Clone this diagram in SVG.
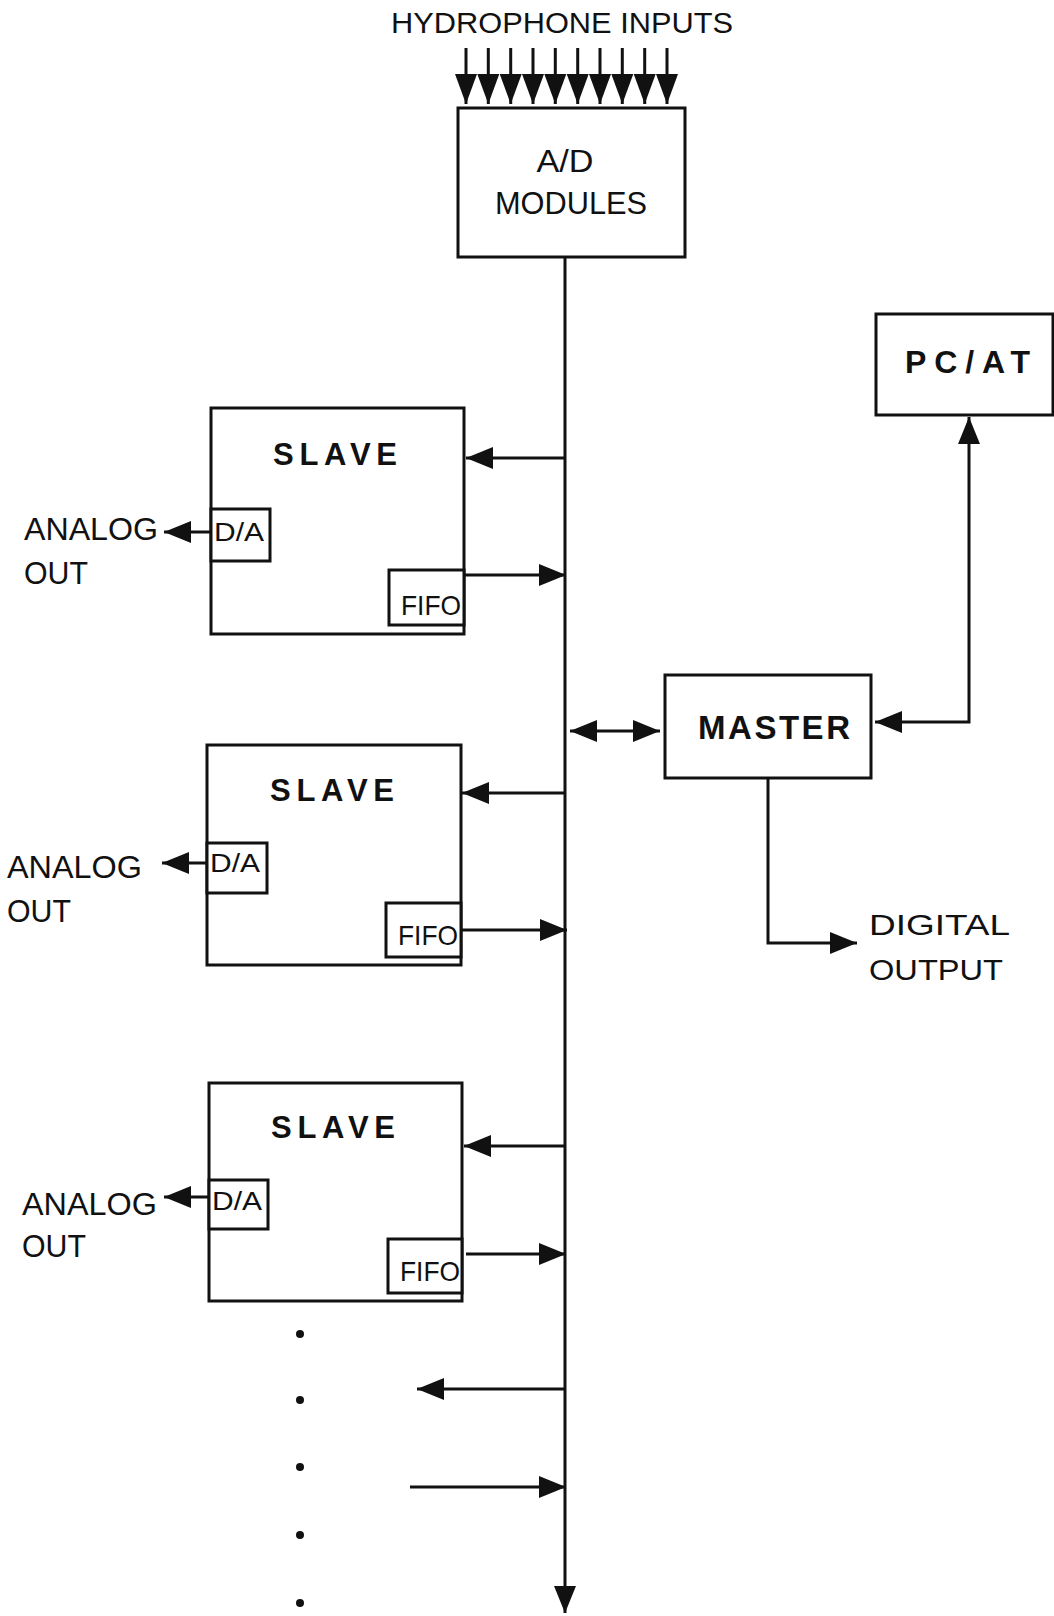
<svg xmlns="http://www.w3.org/2000/svg" width="1054" height="1616" viewBox="0 0 1054 1616">
<style>
.box{fill:#fff;stroke:#111;stroke-width:3}
.ln{fill:none;stroke:#111;stroke-width:3}
.t{font-family:"Liberation Sans",Arial,sans-serif;fill:#111}
.b{font-family:"Liberation Sans",Arial,sans-serif;font-weight:bold;fill:#111}
</style>
<defs>
<marker id="ah" markerWidth="28" markerHeight="24" refX="27" refY="11" orient="auto-start-reverse" markerUnits="userSpaceOnUse">
<path d="M0,0 L27,11 L0,22 Z" fill="#111"/>
</marker>
<marker id="ahh" markerWidth="31" markerHeight="24" refX="30" refY="11" orient="auto" markerUnits="userSpaceOnUse">
<path d="M0,0 L30,11 L0,22 Z" fill="#111"/>
</marker>
</defs>
<rect width="1054" height="1616" fill="#fff"/>

<g id="connectors">
<g id="hydrophone-inputs">
<line class="ln" x1="466" y1="48" x2="466" y2="104" marker-end="url(#ahh)"/>
<line class="ln" x1="488.3" y1="48" x2="488.3" y2="104" marker-end="url(#ahh)"/>
<line class="ln" x1="510.7" y1="48" x2="510.7" y2="104" marker-end="url(#ahh)"/>
<line class="ln" x1="533" y1="48" x2="533" y2="104" marker-end="url(#ahh)"/>
<line class="ln" x1="555.3" y1="48" x2="555.3" y2="104" marker-end="url(#ahh)"/>
<line class="ln" x1="577.7" y1="48" x2="577.7" y2="104" marker-end="url(#ahh)"/>
<line class="ln" x1="600" y1="48" x2="600" y2="104" marker-end="url(#ahh)"/>
<line class="ln" x1="622.3" y1="48" x2="622.3" y2="104" marker-end="url(#ahh)"/>
<line class="ln" x1="644.7" y1="48" x2="644.7" y2="104" marker-end="url(#ahh)"/>
<line class="ln" x1="667" y1="48" x2="667" y2="104" marker-end="url(#ahh)"/>
</g>
<line class="ln" x1="565" y1="257" x2="565" y2="1613" marker-end="url(#ah)"/>
<line class="ln" x1="565" y1="458" x2="466" y2="458" marker-end="url(#ah)"/>
<line class="ln" x1="464" y1="575" x2="566" y2="575" marker-end="url(#ah)"/>
<line class="ln" x1="211" y1="532" x2="164" y2="532" marker-end="url(#ah)"/>
<line class="ln" x1="565" y1="793" x2="462" y2="793" marker-end="url(#ah)"/>
<line class="ln" x1="461" y1="930" x2="567" y2="930" marker-end="url(#ah)"/>
<line class="ln" x1="207" y1="863" x2="162" y2="863" marker-end="url(#ah)"/>
<line class="ln" x1="565" y1="1146" x2="464" y2="1146" marker-end="url(#ah)"/>
<line class="ln" x1="466" y1="1254" x2="566" y2="1254" marker-end="url(#ah)"/>
<line class="ln" x1="209" y1="1197" x2="164" y2="1197" marker-end="url(#ah)"/>
<line class="ln" x1="565" y1="1389" x2="417" y2="1389" marker-end="url(#ah)"/>
<line class="ln" x1="410" y1="1487" x2="566" y2="1487" marker-end="url(#ah)"/>
<line class="ln" x1="570" y1="731" x2="660" y2="731" marker-start="url(#ah)" marker-end="url(#ah)"/>
<polyline class="ln" points="875,722 969,722 969,417" marker-start="url(#ah)" marker-end="url(#ah)"/>
<polyline class="ln" points="768,778 768,943 857,943" marker-end="url(#ah)"/>
</g>

<text class="t" x="391" y="33" font-size="30" textLength="342" lengthAdjust="spacingAndGlyphs">HYDROPHONE INPUTS</text>

<g id="ad-modules">
<rect class="box" x="458" y="108" width="227" height="149"/>
<text class="t" x="565" y="172" font-size="32" text-anchor="middle" textLength="57" lengthAdjust="spacingAndGlyphs">A/D</text>
<text class="t" x="571" y="214" font-size="32" text-anchor="middle" textLength="152" lengthAdjust="spacingAndGlyphs">MODULES</text>
</g>

<g id="pc-at">
<rect class="box" x="876" y="314" width="177" height="101"/>
<text class="b" x="905" y="373" font-size="32" textLength="125" lengthAdjust="spacing">PC/AT</text>
</g>

<g id="master">
<rect class="box" x="665" y="675" width="206" height="103"/>
<text class="b" x="698" y="739" font-size="33" textLength="152" lengthAdjust="spacing">MASTER</text>
</g>

<g id="digital-output">
<text class="t" x="869" y="935" font-size="29" textLength="141" lengthAdjust="spacingAndGlyphs">DIGITAL</text>
<text class="t" x="869" y="980" font-size="29" textLength="134" lengthAdjust="spacingAndGlyphs">OUTPUT</text>
</g>

<g id="slave-1">
<rect class="box" x="211" y="408" width="253" height="226"/>
<text class="b" x="273" y="465" font-size="31" textLength="124" lengthAdjust="spacing">SLAVE</text>
<rect class="box" x="211" y="509" width="59" height="52"/>
<text class="t" x="214" y="541" font-size="25" textLength="50" lengthAdjust="spacingAndGlyphs">D/A</text>
<rect class="box" x="389" y="570" width="75" height="55"/>
<text class="t" x="401" y="615" font-size="28" textLength="60" lengthAdjust="spacingAndGlyphs">FIFO</text>
<text class="t" x="24" y="540" font-size="32" textLength="134" lengthAdjust="spacingAndGlyphs">ANALOG</text>
<text class="t" x="24" y="584" font-size="32" textLength="64" lengthAdjust="spacingAndGlyphs">OUT</text>
</g>

<g id="slave-2">
<rect class="box" x="207" y="745" width="254" height="220"/>
<text class="b" x="270" y="801" font-size="31" textLength="124" lengthAdjust="spacing">SLAVE</text>
<rect class="box" x="207" y="843" width="60" height="50"/>
<text class="t" x="210" y="872" font-size="25" textLength="50" lengthAdjust="spacingAndGlyphs">D/A</text>
<rect class="box" x="386" y="903" width="75" height="54"/>
<text class="t" x="398" y="945" font-size="28" textLength="60" lengthAdjust="spacingAndGlyphs">FIFO</text>
<text class="t" x="7" y="878" font-size="32" textLength="135" lengthAdjust="spacingAndGlyphs">ANALOG</text>
<text class="t" x="7" y="922" font-size="32" textLength="64" lengthAdjust="spacingAndGlyphs">OUT</text>
</g>

<g id="slave-3">
<rect class="box" x="209" y="1083" width="253" height="218"/>
<text class="b" x="271" y="1138" font-size="31" textLength="124" lengthAdjust="spacing">SLAVE</text>
<rect class="box" x="209" y="1180" width="59" height="49"/>
<text class="t" x="212" y="1210" font-size="25" textLength="50" lengthAdjust="spacingAndGlyphs">D/A</text>
<rect class="box" x="388" y="1239" width="74" height="54"/>
<text class="t" x="400" y="1281" font-size="28" textLength="60" lengthAdjust="spacingAndGlyphs">FIFO</text>
<text class="t" x="22" y="1215" font-size="32" textLength="135" lengthAdjust="spacingAndGlyphs">ANALOG</text>
<text class="t" x="22" y="1257" font-size="32" textLength="64" lengthAdjust="spacingAndGlyphs">OUT</text>
</g>

<g id="continuation-dots" fill="#111">
<circle cx="300" cy="1334" r="4"/>
<circle cx="300" cy="1400" r="4"/>
<circle cx="300" cy="1467" r="4"/>
<circle cx="300" cy="1535" r="4"/>
<circle cx="300" cy="1603" r="4"/>
</g>
</svg>
